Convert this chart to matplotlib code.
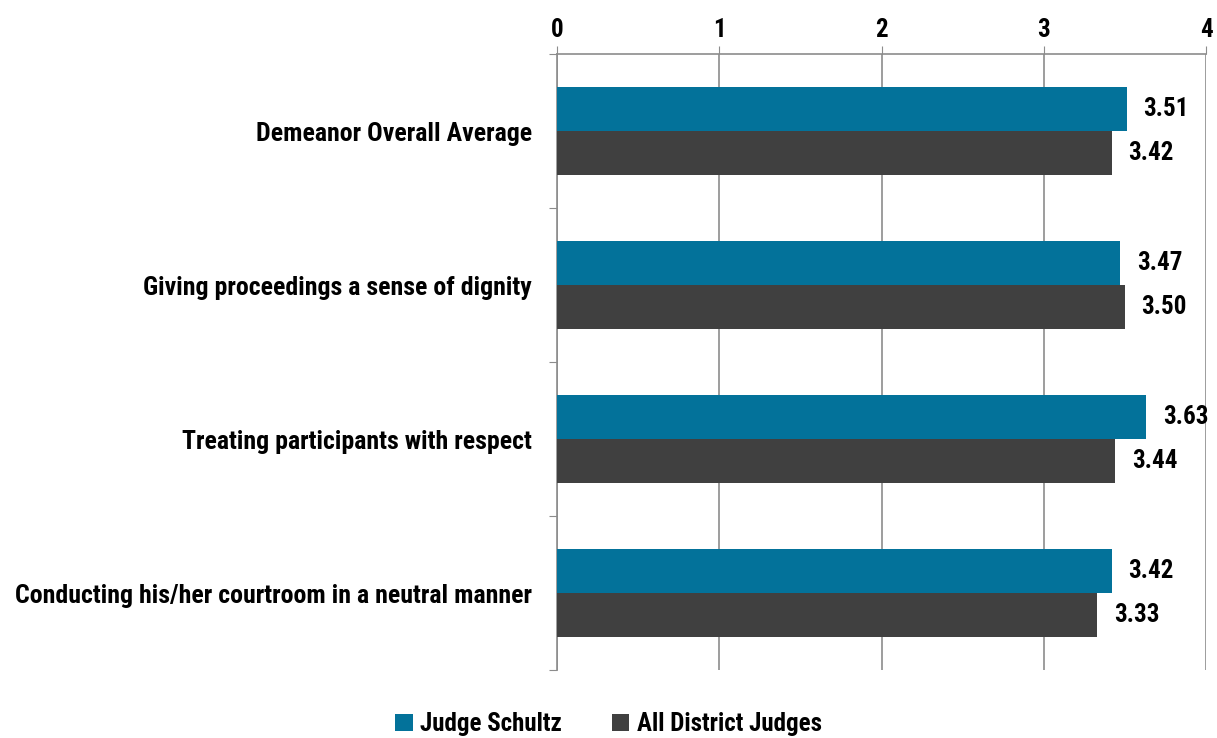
import matplotlib.pyplot as plt
import numpy as np

categories = ["Demeanor Overall Average",
              "Giving proceedings a sense of dignity",
              "Treating participants with respect",
              "Conducting his/her courtroom in a neutral manner"]
judge = [3.51, 3.47, 3.63, 3.42]
all_judges = [3.42, 3.50, 3.44, 3.33]
series_names = ["Judge Schultz", "All District Judges"]

plt.rcParams['font.family'] = ['Roboto Condensed', 'Liberation Sans', 'DejaVu Sans']
plt.rcParams['font.weight'] = 'bold'

fig = plt.figure(figsize=(12.17, 7.38), dpi=100)
ax = fig.add_axes([0.4577, 0.0921, 0.5333, 0.8347])

y = np.arange(len(categories))
h = 0.285
teal = "#03729a"
dark = "#404040"
grid = "#8c8c8c"
fs = 18

b1 = ax.barh(y - h / 2, judge, height=h, color=teal, label=series_names[0], zorder=3)
b2 = ax.barh(y + h / 2, all_judges, height=h, color=dark, label=series_names[1], zorder=3)

for bars, vals in ((b1, judge), (b2, all_judges)):
    for bar, v in zip(bars, vals):
        ax.annotate("%.2f" % v, (v, bar.get_y() + bar.get_height() / 2),
                    xytext=(12, 0), textcoords="offset points",
                    va="center", ha="left", fontsize=fs, fontweight="bold")

ax.set_xlim(0, 4)
ax.set_ylim(len(categories) - 0.5, -0.5)
ax.xaxis.tick_top()
ax.set_xticks([0, 1, 2, 3, 4])
ax.tick_params(axis="x", direction="out", length=6, color=grid, labelsize=fs, pad=3)
ax.grid(axis="x", color=grid, linewidth=1.2, zorder=0)

ax.set_yticks(np.arange(-0.5, len(categories), 1))
ax.set_yticklabels([])
ax.set_yticks(y, minor=True)
ax.set_yticklabels(categories, minor=True, fontsize=18.6, fontweight="bold")
ax.tick_params(axis="y", which="major", direction="out", length=6, color=grid)
ax.tick_params(axis="y", which="minor", length=0, pad=18)

for s in ("right", "bottom"):
    ax.spines[s].set_visible(False)
for s in ("left", "top"):
    ax.spines[s].set_color(grid)
    ax.spines[s].set_linewidth(1.2)

fig.legend(handles=[b1, b2], labels=series_names, loc="lower center",
           bbox_to_anchor=(0.5, -0.028), ncol=2, frameon=False,
           fontsize=fs, handlelength=0.7, handleheight=0.7,
           handletextpad=0.3, columnspacing=2.0)

fig.savefig("out.png", dpi=100)
